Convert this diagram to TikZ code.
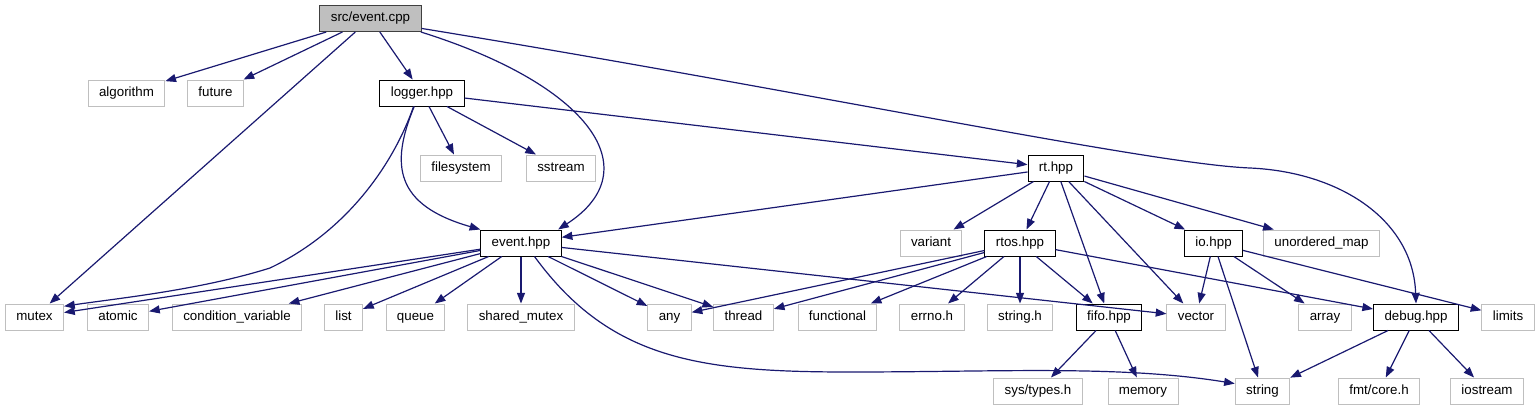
\documentclass[tikz,border=0pt]{standalone}
\usepackage{fontspec}
\setmainfont{Liberation Sans}
\usetikzlibrary{arrows.meta}
\definecolor{dxblue}{RGB}{25,25,112}
\definecolor{dxgray}{RGB}{191,191,191}
\definecolor{dxdark}{RGB}{64,64,64}

\begin{document}
\begin{tikzpicture}[x=.75pt,y=-.75pt,font=\fontsize{10}{12}\selectfont,
 hdr/.style={draw,line width=.75pt,fill=white,inner xsep=8.2pt,inner ysep=0pt,minimum height=19.5pt,text height=7.2pt,text depth=2pt},
 sys/.style={hdr,draw=dxgray},
 loc/.style={hdr,draw=black},
 dep/.style={draw=dxblue,line width=.9pt,-{Triangle[length=8pt,width=6pt]}}]
\useasboundingbox(0,0)rectangle(1540,411);
\node[hdr,draw=dxdark,fill=dxgray](cpp)at(370.5,18.5){src/event.cpp};
\node[sys](algorithm)at(126.5,93){algorithm};
\node[sys](future)at(215.5,93){future};
\node[loc](logger)at(422,93){logger.hpp};
\node[sys](filesystem)at(461,168){filesystem};
\node[sys](sstream)at(561,168){sstream};
\node[loc](rt)at(1056,168){rt.hpp};
\node[loc](event)at(521,243){event.hpp};
\node[sys](variant)at(931,243){variant};
\node[loc](rtos)at(1020,243){rtos.hpp};
\node[loc](io)at(1213.5,243){io.hpp};
\node[sys](umap)at(1321.5,243){unordered\_map};
\foreach\n/\x/\txt in{mutex/34.5/mutex,atomic/118/atomic,condvar/237/condition\_variable,list/343.5/list,queue/415.5/queue,shmutex/521/shared\_mutex,any/669.5/any,thread/743.5/thread,functional/837.5/functional,errno/932/errno.h,stringh/1020/string.h,vector/1196/vector,array/1325/array,limits/1508/limits}{\node[sys](\n)at(\x,317){\txt};}
\node[loc](fifo)at(1109,317){fifo.hpp};
\node[loc](debug)at(1416,317){debug.hpp};
\foreach\n/\x/\txt in{systypes/1038/{sys/types.h},memory/1143/memory,string/1262.5/string,fmtcore/1379/{fmt/core.h},iostream/1487/iostream}{\node[sys](\n)at(\x,391){\txt};}
\foreach\a/\b in{cpp/algorithm,cpp/future,cpp/mutex,cpp/logger,logger/filesystem,logger/sstream,logger/rt,rt/event,rt/variant,rt/rtos,rt/fifo,rt/vector,rt/io,rt/umap,event/mutex,event/atomic,event/condvar,event/list,event/queue,event/shmutex,event/any,event/thread,event/vector,rtos/any,rtos/thread,rtos/functional,rtos/errno,rtos/stringh,rtos/fifo,rtos/debug,io/vector,io/string,io/array,io/limits,fifo/systypes,fifo/memory,debug/string,debug/fmtcore,debug/iostream}{\draw[dep](\a)--(\b);}
\draw[dep](cpp.-15)..controls(590,85)and(650,170)..(event.20);
\draw[dep](cpp.-11)..controls(800,90)and(1150,164)..(1250,168)..controls(1340,172)and(1413,220)..(debug.north);
\draw[dep](logger.-120)..controls(390,165)and(395,205)..(event.north west);
\draw[dep](logger.-122)..controls(395,160)and(350,230)..(270,268)..controls(200,290)and(120,298)..(mutex.20);
\draw[dep](event.-45)..controls(610,360)and(700,372)..(850,372)..controls(1000,372)and(1120,365)..(string.165);
\end{tikzpicture}
\end{document}
